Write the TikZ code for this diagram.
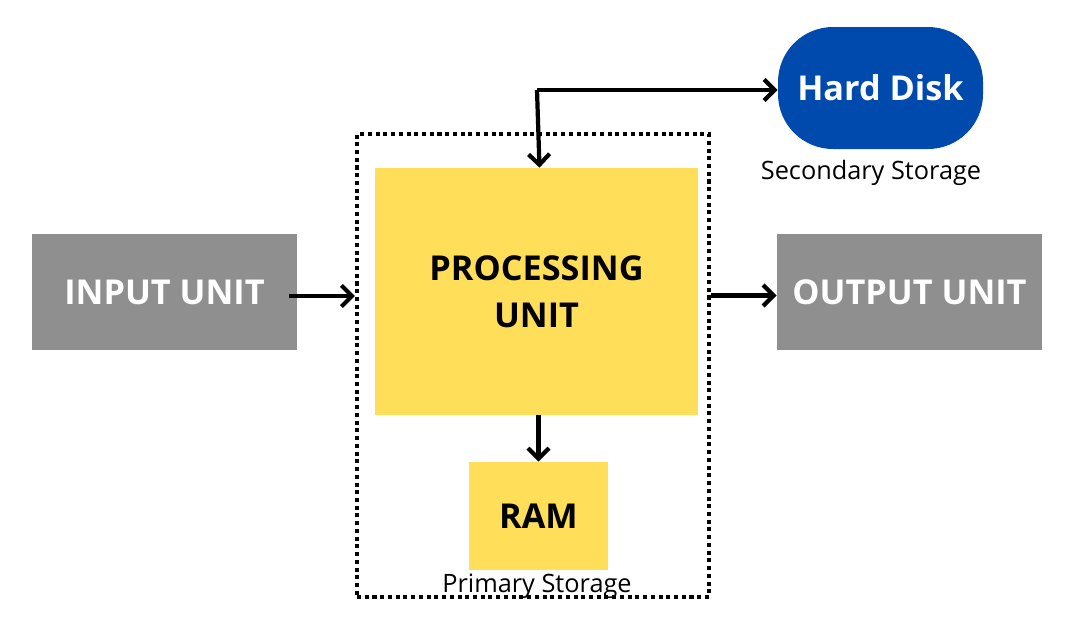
\documentclass[tikz,border=0pt]{standalone}
\usepackage{fontspec}
\setmainfont{Open Sans}
\usetikzlibrary{arrows.meta}
\definecolor{unitgray}{HTML}{8F8F8F}
\definecolor{procyellow}{HTML}{FFDE59}
\definecolor{diskblue}{HTML}{004AAD}
\begin{document}
\begin{tikzpicture}

      \useasboundingbox (0,0) rectangle (21.36,-12.6);

      \begin{scope}[every node/.style={draw=none,inner sep=0pt,font=\bfseries\fontsize{19.5}{27}\selectfont,align=center}]
        \node[fill=unitgray,text=white,minimum width=5.3cm,minimum height=2.32cm] (input) at (3.29,-5.84) {INPUT UNIT};
        \node[fill=procyellow,minimum width=6.46cm,minimum height=4.94cm] (proc) at (10.73,-5.83) {PROCESSING\\UNIT};
        \node[fill=unitgray,text=white,minimum width=5.3cm,minimum height=2.32cm] (output) at (18.19,-5.84) {OUTPUT UNIT};
        \node[fill=procyellow,minimum width=2.78cm,minimum height=2.16cm] (ram) at (10.77,-10.32) {RAM};
        \node[fill=diskblue,text=white,rounded corners=1.1cm,minimum width=4.1cm,minimum height=2.44cm] (disk) at (17.61,-1.76) {Hard Disk};
      \end{scope}

      \node[draw,line width=2.3pt,dash pattern=on 2.3pt off 2.1pt,minimum width=7.04cm,minimum height=9.26cm,inner sep=0pt] (primary) at (10.66,-7.31) {};

      \begin{scope}[every node/.style={inner sep=0pt,font=\fontsize{14.4}{17}\selectfont}]
        \node (seclabel)  at (17.42,-3.46)  {Secondary Storage};
        \node (primlabel) at (10.74,-11.72) {Primary Storage};
      \end{scope}

      \coordinate (split) at (10.74,-1.8);

      \begin{scope}[every edge/.style={draw,line width=2.4pt,-{Straight Barb[length=6pt,width=12pt]}}]
        \path (input.east) ++(-0.16,-0.08) coordinate (inout) edge (inout -| primary.west);
        \path (proc.east -| primary.east) ++(0,-0.08) coordinate (procout) edge (procout -| output.west);
        \path (proc.south -| ram.north) edge (ram.north);
        \path (split) edge (split -| disk.west);
        \path (split) edge ([xshift=0.06cm]proc.north);
      \end{scope}

    \end{tikzpicture}
\end{document}
